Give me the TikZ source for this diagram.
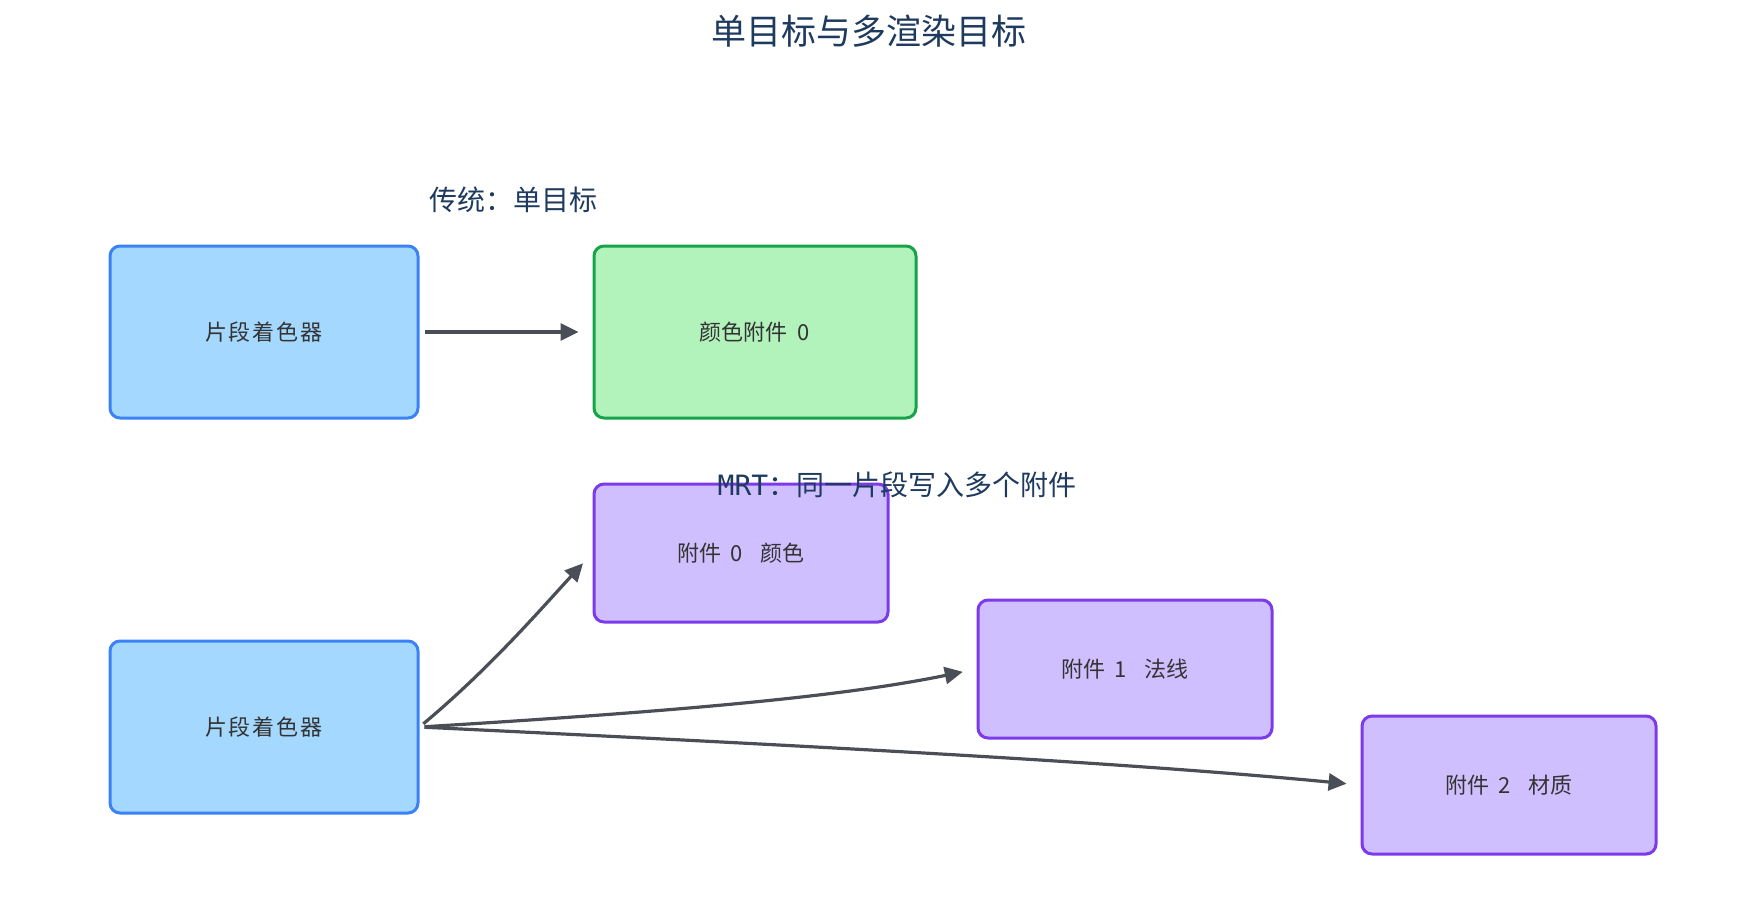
\documentclass[tikz,border=0pt]{standalone}
\usepackage{fontspec}
\setmainfont{Noto Sans CJK SC}
\newfontfamily\monofont{DejaVu Sans Mono}
\usetikzlibrary{arrows.meta}
\definecolor{titlec}{HTML}{1E3A5F}
\definecolor{txt}{HTML}{333333}
\definecolor{bluefill}{HTML}{A5D8FF}
\definecolor{blueline}{HTML}{3B82F6}
\definecolor{greenfill}{HTML}{B2F2BB}
\definecolor{greenline}{HTML}{16A34A}
\definecolor{purpfill}{HTML}{D0BFFF}
\definecolor{purpline}{HTML}{7C3AED}
\definecolor{arrowc}{HTML}{4A4E57}
\tikzset{
  box/.style={draw, line width=1.5pt, rounded corners=5pt, inner sep=0pt, text=txt, font=\fontsize{11}{13}\selectfont},
  bluebox/.style={box, fill=bluefill, draw=blueline, minimum width=154pt, minimum height=86pt},
  greenbox/.style={box, fill=greenfill, draw=greenline, minimum width=161pt, minimum height=86pt},
  purpbox/.style={box, fill=purpfill, draw=purpline, minimum width=147pt, minimum height=69pt},
  conn/.style={draw=arrowc, line width=1.6pt, -{Triangle[length=9pt,width=8.5pt]}, shorten <=2.5pt, shorten >=7pt},
  lbl/.style={text=titlec, font=\fontsize{14}{16}\selectfont},
}
\begin{document}
\begin{tikzpicture}[x=0.5pt,y=-0.5pt]
\useasboundingbox (0,0) rectangle (1738,912);
\node[text=titlec, font=\fontsize{17.5}{20}\selectfont] (title) at (869,31) {单目标与多渲染目标};
\node[lbl] (l1) at (513,200) {传统：单目标};
\node[bluebox] (s1) at (264,332) {片\kern1pt段\kern1pt着\kern1pt色\kern1pt器};
\node[greenbox] (c0) at (755,332) {颜色附件\hspace{0.45em}0};
\node[bluebox] (s2) at (264,727) {片\kern1pt段\kern1pt着\kern1pt色\kern1pt器};
\node[purpbox] (p0) at (741,553) {附件\hspace{0.4em}0\hspace{0.8em}颜色};
\node[purpbox] (p1) at (1125,669) {附件\hspace{0.4em}1\hspace{0.8em}法线};
\node[purpbox] (p2) at (1509,785) {附件\hspace{0.4em}2\hspace{0.8em}材质};
\node[lbl] (l2) at (897,485) {{\monofont MRT}：同一片段写入多个附件};
\draw[conn] (s1.east) -- (c0.west);
\draw[conn] (s2.east) .. controls (490,668) and (540,610) .. (p0.west);
\draw[conn] (s2.east) .. controls (700,710) and (850,695) .. (p1.west);
\draw[conn] (s2.east) .. controls (900,750) and (1150,765) .. (p2.west);
\end{tikzpicture}
\end{document}
